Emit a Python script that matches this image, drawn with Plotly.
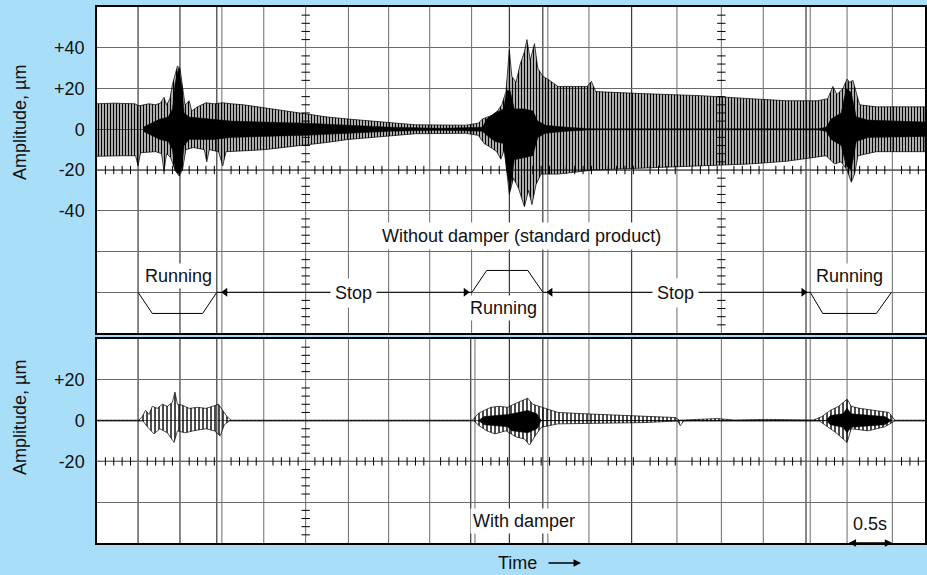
import numpy as np
import plotly.graph_objects as go

BG = "#a9def9"
FONT = "Liberation Sans, Arial, sans-serif"
W, H = 927, 575

# ---------------- data (time in s, amplitude in µm) ----------------
# Without damper: upper / lower envelope of the recorded trace
top_up_t = [0.00, 0.20, 0.45, 0.50, 0.62, 0.70, 0.76, 0.80, 0.83, 0.87, 0.90, 0.93, 0.96, 0.99, 1.02, 1.05,
            1.10, 1.13, 1.20, 1.30, 1.40, 1.50, 1.60, 1.75, 2.00, 2.25, 2.50, 2.75, 3.00, 3.45, 3.80, 4.40,
            4.55, 4.60, 4.66, 4.72, 4.78, 4.83, 4.88, 4.92, 4.95, 5.00, 5.05, 5.10, 5.13, 5.17, 5.22, 5.26,
            5.32, 5.40, 5.50, 5.85, 5.90, 5.95, 6.50, 7.20, 7.80, 8.23, 8.60, 8.72, 8.78, 8.83, 8.90, 8.95,
            8.98, 9.02, 9.06, 9.10, 9.30, 9.60, 9.88]
top_up = [12.5, 12.8, 12.5, 11.5, 12.5, 12, 13, 15.7, 12, 15, 22, 26, 31, 30, 22, 12,
          14, 9, 11, 13, 12.5, 13, 12.5, 12, 10.5, 9, 7.5, 6, 5, 3.3, 2.2, 2,
          3, 5, 6, 7, 9, 12, 18.5, 39, 26, 23, 32, 38, 44, 34, 42, 30,
          26, 24, 21, 21, 23.5, 18.5, 17.5, 16.5, 15, 14, 14, 15, 21, 17, 20, 24.6,
          23, 24, 18, 12, 11, 11, 11]
top_lo_t = [0.00, 0.30, 0.46, 0.49, 0.52, 0.70, 0.77, 0.80, 0.83, 0.88, 0.93, 0.98, 1.02, 1.06, 1.15, 1.28,
            1.31, 1.34, 1.45, 1.50, 1.54, 1.80, 2.00, 2.30, 2.74, 3.00, 3.46, 3.80, 4.40, 4.55, 4.62, 4.70,
            4.77, 4.82, 4.86, 4.92, 4.97, 5.03, 5.10, 5.15, 5.19, 5.24, 5.30, 5.50, 5.93, 6.60, 7.20, 7.80,
            8.23, 8.70, 8.80, 8.88, 8.95, 9.00, 9.04, 9.08, 9.30, 9.88]
top_lo = [-13.3, -13, -13, -18, -11.5, -11, -12, -20.6, -12, -14, -20, -23, -20, -10, -9, -10,
          -16, -10, -11, -18, -11, -10.5, -10, -8.5, -6.5, -5, -3.3, -2.2, -2, -3, -7, -9,
          -11, -14.7, -10, -32, -24, -29, -38, -30, -37, -27, -22, -22, -20, -19, -18, -17,
          -15.7, -13, -17, -16, -20, -26, -22, -13, -11, -11]
# solid (saturated) core of the trace
top_core_t = [0.55, 0.65, 0.75, 0.85, 0.90, 0.93, 0.97, 1.01, 1.04, 1.10, 1.40, 1.60, 2.00, 2.50, 3.00, 3.50,
              4.10, 4.60, 4.65, 4.75, 4.85, 4.89, 4.93, 4.98, 5.10, 5.20, 5.26, 5.35, 5.60, 5.90, 8.60, 8.70,
              8.76, 8.88, 8.94, 9.00, 9.06, 9.20, 9.88]
top_core_up = [1, 3, 5, 6, 10, 22, 30, 22, 8, 6, 5, 4, 3.5, 3, 2, 1,
               0.5, 1, 5, 8, 10, 19, 19, 10, 10, 9, 4, 2, 1, 0.3, 0.3, 1,
               5, 8, 20, 18, 6, 4.5, 3.5]
top_core_lo = [-1, -3, -5, -6, -10, -20, -22, -20, -8, -5, -5, -4, -3.5, -3, -2, -1,
               -0.5, -1, -3, -6, -7, -20, -30, -15, -14, -13, -4, -2, -1, -0.3, -0.3, -1,
               -5, -8, -18, -20, -6, -4, -3.5]

# With damper
bot_up_t = [0.00, 0.50, 0.54, 0.58, 0.62, 0.66, 0.72, 0.78, 0.84, 0.90, 0.93, 0.96, 1.02, 1.10, 1.20, 1.30,
            1.38, 1.45, 1.50, 1.55, 1.60, 2.50, 3.00, 4.48, 4.55, 4.62, 4.70, 4.80, 4.90, 5.00, 5.06, 5.14,
            5.20, 5.28, 5.35, 5.50, 5.90, 6.40, 6.90, 6.95, 7.40, 7.60, 8.00, 8.55, 8.65, 8.75, 8.85, 8.95,
            9.00, 9.10, 9.25, 9.45, 9.52, 9.88]
bot_up = [0.2, 0.2, 2, 5, 3, 7, 6, 8, 7, 9, 14, 8, 7.5, 6, 6.5, 6,
          7, 8, 5, 2, 0.2, 0.4, 0.2, 0.2, 3.5, 5, 6.5, 7, 6.5, 8.5, 9.5, 11,
          8, 7, 5.8, 4, 3.2, 2.5, 1.5, 0.2, 1.0, 0.3, 0.6, 0.3, 2, 5, 7, 10.5,
          7, 6, 5, 4, 0.2, 0.2]
bot_lo_t = [0.00, 0.55, 0.60, 0.68, 0.75, 0.84, 0.92, 0.96, 1.05, 1.15, 1.30, 1.40, 1.47, 1.52, 1.58, 4.50,
            4.56, 4.65, 4.75, 4.88, 5.00, 5.10, 5.16, 5.22, 5.30, 5.50, 6.50, 6.93, 6.96, 7.00, 8.62, 8.72,
            8.82, 8.95, 9.00, 9.20, 9.40, 9.52, 9.88]
bot_lo = [-0.2, -0.2, -3, -6.5, -4, -6, -10.7, -5, -6, -5, -4, -5, -7.5, -2, -0.2, -0.2,
          -2.5, -5, -6.5, -5, -8, -9, -12, -8, -3.3, -1.6, -1, -0.2, -2.5, -0.2, -0.2, -3,
          -6, -10.7, -4, -5, -3, -0.2, -0.2]
bot_core_t = [4.55, 4.62, 4.90, 4.95, 5.14, 5.25, 5.30, 8.70, 8.75, 8.90, 8.95, 9.00, 9.40, 9.48]
bot_core_up = [0, 2, 3, 3.3, 5, 3.3, 0, 0, 2.5, 3.3, 6, 3.3, 2, 0]
bot_core_lo = [0, -2, -3, -5, -6, -4, 0, 0, -2, -3.3, -6, -3.3, -2, 0]

# running / stop event line (top panel)
event_t = [0.49, 0.66, 1.26, 1.43, 4.475, 4.65, 5.14, 5.32, 8.51, 8.66, 9.30, 9.48]
event_y = [-80, -90.4, -90.4, -80, -80, -69.3, -69.3, -80, -80, -90.4, -90.4, -80]
arrow_left_t = [1.53, 5.41]
arrow_right_t = [4.40, 8.43]

# chart paper grid (s)
top_grid_black = [0.49, 0.99, 1.43, 4.92, 5.32, 6.38, 8.46]
top_grid_gray = [1.49, 1.99, 2.49, 3.00, 3.48, 3.97, 4.47, 5.38, 5.87, 6.92, 7.45, 7.95, 8.51, 8.95, 9.49]
bot_grid_black = [0.49, 0.99, 1.43, 4.46, 4.92, 5.32, 6.38, 8.46]
bot_grid_gray = [1.49, 1.99, 2.49, 3.00, 3.48, 3.97, 4.51, 5.38, 5.87, 6.92, 7.45, 7.95, 8.51, 8.95, 9.49]
top_yticks = [-80, -60, -40, -20, 0, 20, 40]
top_ytext = ["", "", "-40", "-20", "0", "+20", "+40"]
bot_yticks = [-40, -20, 0, 20]
bot_ytext = ["", "-20", "0", "+20"]
T_MAX = 9.88

# ---------------- figure ----------------
fig = go.Figure()

def envelope(ut, u, lt, l, xa, ya, size, sol):
    fig.add_trace(go.Scatter(
        x=list(ut) + list(lt)[::-1], y=list(u) + list(l)[::-1],
        xaxis=xa, yaxis=ya, mode="lines", fill="toself", fillcolor="black",
        fillpattern=dict(shape="|", fgcolor="black", bgcolor="rgba(0,0,0,0)",
                         size=size, solidity=sol, fillmode="replace"),
        line=dict(color="black", width=0.7), hoverinfo="skip", showlegend=False))

def core(t, u, l, xa, ya):
    fig.add_trace(go.Scatter(
        x=list(t) + list(t)[::-1], y=list(u) + list(l)[::-1],
        xaxis=xa, yaxis=ya, mode="lines", fill="toself", fillcolor="black",
        line=dict(color="black", width=0.5), hoverinfo="skip", showlegend=False))

envelope(top_up_t, top_up, top_lo_t, top_lo, "x", "y", 3, 0.55)
core(top_core_t, top_core_up, top_core_lo, "x", "y")
envelope(bot_up_t, bot_up, bot_lo_t, bot_lo, "x2", "y2", 4, 0.35)
core(bot_core_t, bot_core_up, bot_core_lo, "x2", "y2")

# event line
fig.add_trace(go.Scatter(x=event_t, y=event_y, mode="lines", line=dict(color="black", width=1),
                         xaxis="x", yaxis="y", hoverinfo="skip", showlegend=False))
fig.add_trace(go.Scatter(x=arrow_left_t, y=[-80] * len(arrow_left_t), mode="markers",
                         marker=dict(symbol="triangle-left", size=8, color="black"),
                         xaxis="x", yaxis="y", hoverinfo="skip", showlegend=False))
fig.add_trace(go.Scatter(x=arrow_right_t, y=[-80] * len(arrow_right_t), mode="markers",
                         marker=dict(symbol="triangle-right", size=8, color="black"),
                         xaxis="x", yaxis="y", hoverinfo="skip", showlegend=False))

# small scale ticks on the reference axes of the chart paper
hx = [k / 10 for k in range(1, 99) if k % 5]
def tick_marks(xs, ys, sym, xa, ya):
    fig.add_trace(go.Scatter(x=xs, y=ys, mode="markers", xaxis=xa, yaxis=ya,
                             marker=dict(symbol=sym, size=6, line=dict(color="black", width=1)),
                             hoverinfo="skip", showlegend=False))
tick_marks(hx, [-20] * len(hx), "line-ns", "x", "y")
tick_marks(hx, [-20] * len(hx), "line-ns", "x2", "y2")
vy_top = [v for v in range(-96, 60, 4) if v % 20]
vy_bot = [v for v in range(-56, 40, 4) if v % 20]
for xv in (2.49, 7.45):
    tick_marks([xv] * len(vy_top), vy_top, "line-ew", "x", "y")
tick_marks([2.49] * len(vy_bot), vy_bot, "line-ew", "x2", "y2")

shapes = []
def vlines(lst, color, xa, ya, w=1):
    for v in lst:
        shapes.append(dict(type="line", xref=xa, yref=ya + " domain", x0=v, x1=v, y0=0, y1=1,
                           line=dict(color=color, width=w), layer="below"))
vlines(top_grid_gray, "#6a6a6a", "x", "y")
vlines(top_grid_black, "#111111", "x", "y")
vlines(bot_grid_gray, "#6a6a6a", "x2", "y2")
vlines(bot_grid_black, "#111111", "x2", "y2")
for ya in ("y", "y2"):
    shapes.append(dict(type="line", xref=("x" if ya == "y" else "x2") + " domain", yref=ya,
                       x0=0, x1=1, y0=-20, y1=-20, line=dict(color="#111111", width=1.2), layer="below"))

xdom = [97 / W, 925 / W]
axis_common = dict(showline=True, mirror=True, linecolor="black", linewidth=1.5, zeroline=False)
fig.update_layout(
    width=W, height=H, margin=dict(l=0, r=0, t=0, b=0),
    paper_bgcolor=BG, plot_bgcolor="white",
    font=dict(family=FONT, size=18, color="#111111"),
    shapes=shapes,
    xaxis=dict(domain=xdom, range=[0, T_MAX], anchor="y", showgrid=False, showticklabels=False,
               ticks="", **axis_common),
    yaxis=dict(domain=[1 - 333 / H, 1 - 7 / H], range=[-100, 60], anchor="x", tickvals=top_yticks,
               ticktext=top_ytext, showgrid=True, gridcolor="#6a6a6a", gridwidth=1, ticks="",
               ticklabelstandoff=7, tickfont=dict(size=18), **axis_common),
    xaxis2=dict(domain=xdom, range=[0, T_MAX], anchor="y2", showgrid=False, showticklabels=False,
                ticks="", **axis_common),
    yaxis2=dict(domain=[1 - 543 / H, 1 - 339 / H], range=[-60, 40], anchor="x2", tickvals=bot_yticks,
                ticktext=bot_ytext, showgrid=True, gridcolor="#6a6a6a", gridwidth=1, ticks="",
                ticklabelstandoff=7, tickfont=dict(size=18), **axis_common),
)

ann = []
def label(text, x, y, xr, yr, bg="white", pad=2, **kw):
    ann.append(dict(text=text, x=x, y=y, xref=xr, yref=yr, showarrow=False, bgcolor=bg,
                    xanchor="center", yanchor="middle",
                    borderpad=pad, font=dict(size=18, color="#111111"), **kw))
label("Running", 0.967, -72.2, "x", "y")
label("Stop", 3.055, -80.6, "x", "y", pad=4)
label("Without damper (standard product)", 5.066, -52.6, "x", "y", pad=3)
label("Running", 4.85, -87.5, "x", "y")
label("Stop", 6.897, -80.6, "x", "y", pad=4)
label("Running", 8.974, -72.2, "x", "y")
label("With damper", 5.10, -49.4, "x2", "y2")
label("0.5s", 9.218, -50.9, "x2", "y2", bg="rgba(0,0,0,0)")
label("Time", 517 / W, 1 - 563 / H, "paper", "paper", bg="rgba(0,0,0,0)")
label("Amplitude, µm", 20 / W, 1 - 123 / H, "paper", "paper", bg="rgba(0,0,0,0)", textangle=-90)
label("Amplitude, µm", 20 / W, 1 - 418 / H, "paper", "paper", bg="rgba(0,0,0,0)", textangle=-90)
ann.append(dict(text="", x=581 / W, y=1 - 563 / H, xref="paper", yref="paper", ax=-34, ay=0,
                showarrow=True, arrowhead=2, arrowsize=1, arrowwidth=1.5, arrowcolor="black"))
ann.append(dict(text="", x=9.49, y=-60, xref="x2", yref="y2", ax=8.95, ay=-60, axref="x2", ayref="y2",
                showarrow=True, arrowhead=2, arrowside="end+start", arrowsize=1, arrowwidth=1.5,
                arrowcolor="black"))
fig.update_layout(annotations=ann)

fig.write_html("out.html")
